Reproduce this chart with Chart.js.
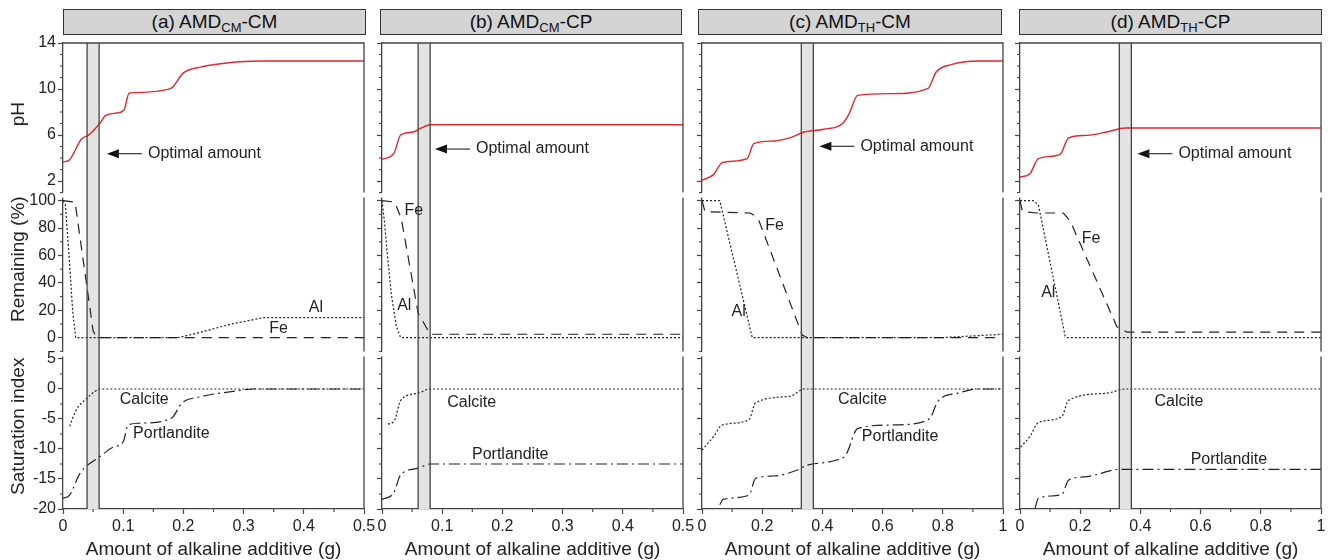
<!DOCTYPE html>
<html>
<head>
<meta charset="utf-8">
<script src="https://cdn.jsdelivr.net/npm/chart.js@4.4.0/dist/chart.umd.min.js"></script>
<style>
body{margin:0;background:#fff;width:1328px;height:560px;position:relative;overflow:hidden;font-family:"Liberation Sans",Arial,sans-serif}
canvas{position:absolute;top:0}
.ttl{position:absolute;top:9px;height:26px;background:#d4d4d4;border:1.5px solid #333;box-sizing:border-box;text-align:center;font-size:19px;line-height:24px;color:#111}
.ttl sub{font-size:13px;vertical-align:-4px;line-height:0}
</style>
</head>
<body>
<div class="ttl" style="left:63px;width:303px">(a) AMD<sub>CM</sub>-CM</div>
<div class="ttl" style="left:380px;width:302px">(b) AMD<sub>CM</sub>-CP</div>
<div class="ttl" style="left:698px;width:304px">(c) AMD<sub>TH</sub>-CM</div>
<div class="ttl" style="left:1019px;width:303px">(d) AMD<sub>TH</sub>-CP</div>
<script>
// tick labels
var xTicksHalf = [0, 0.1, 0.2, 0.3, 0.4, 0.5];
var xTicksOne = [0, 0.2, 0.4, 0.6, 0.8, 1];
var phTicks = [2, 6, 10, 14];
var remTicks = [0, 20, 40, 60, 80, 100];
var siTicks = [-20, -15, -10, -5, 0, 5];

// (a) AMD CM - CM
var phA = [[0,3.65],[0.011,3.86],[0.031,5.68],[0.042,5.97],[0.061,7.0],[0.071,7.71],[0.089,7.91],[0.101,8.15],[0.11,9.65],[0.133,9.71],[0.172,9.95],[0.181,10.12],[0.2,11.4],[0.228,11.9],[0.272,12.26],[0.328,12.43],[0.5,12.43]];
var alA = [[0,100],[0.004,97],[0.01,60],[0.016,20],[0.021,0],[0.19,0],[0.22,3],[0.28,10],[0.333,14.6],[0.5,14.6]];
var feA = [[0,100],[0.02,99],[0.05,5],[0.056,0],[0.5,0]];
var caA = [[0.011,-6.2],[0.022,-3.5],[0.039,-1.6],[0.053,-0.4],[0.061,0],[0.5,0]];
var poA = [[0,-18.2],[0.011,-17.7],[0.028,-14.1],[0.061,-11.3],[0.083,-9.7],[0.1,-8.8],[0.108,-6],[0.128,-5.7],[0.172,-5.2],[0.183,-4.6],[0.197,-2.4],[0.228,-1.3],[0.283,-0.4],[0.317,0],[0.5,0]];

// (b) AMD CM - CP
var phB = [[0,3.89],[0.0195,4.38],[0.031,6.0],[0.052,6.26],[0.063,6.55],[0.08,6.9],[0.5,6.9]];
var alB = [[0,100],[0.004,85],[0.009,60],[0.016,30],[0.024,8],[0.031,0],[0.5,0]];
var feB = [[0,100],[0.021,99],[0.032,87],[0.06,18],[0.08,2.5],[0.5,2.5]];
var caB = [[0.01,-5.9],[0.021,-5.2],[0.031,-1.9],[0.06,-0.7],[0.08,0],[0.5,0]];
var poB = [[0,-18.4],[0.0195,-17.3],[0.031,-14.3],[0.06,-13.2],[0.08,-12.5],[0.5,-12.5]];

// (c) AMD TH - CM
var phC = [[0,2.06],[0.039,2.58],[0.067,3.6],[0.15,3.95],[0.172,5.25],[0.239,5.48],[0.294,5.77],[0.339,6.26],[0.405,6.5],[0.467,7.0],[0.489,7.86],[0.517,9.45],[0.628,9.6],[0.75,10.03],[0.778,11.48],[0.828,12.12],[0.917,12.43],[1,12.43]];
var alC = [[0,100],[0.059,100],[0.167,0],[0.794,0],[1,2.5]];
var feC = [[0,100],[0.01,92],[0.16,91],[0.175,89],[0.19,85],[0.333,2],[0.35,0],[1,0]];
var caC = [[0,-10.2],[0.039,-7.9],[0.067,-6],[0.156,-5.1],[0.178,-2.3],[0.294,-1.2],[0.339,0],[1,0]];
var poC = [[0.059,-19.3],[0.07,-18.4],[0.156,-17.7],[0.178,-14.9],[0.239,-14.5],[0.317,-13.5],[0.344,-12.8],[0.45,-11.8],[0.478,-11],[0.517,-6.6],[0.628,-6.0],[0.739,-5.4],[0.761,-4.6],[0.783,-2.1],[0.85,-0.7],[0.917,0],[1,0]];

// (d) AMD TH - CP
var phD = [[0,2.35],[0.033,2.64],[0.061,3.95],[0.133,4.32],[0.161,5.74],[0.222,5.97],[0.289,6.26],[0.35,6.61],[1,6.61]];
var alD = [[0,100],[0.044,100],[0.061,97],[0.15,1.2],[0.158,0],[1,0]];
var feD = [[0,100],[0.008,92],[0.056,91],[0.144,91],[0.167,85],[0.322,8],[0.356,4],[1,4]];
var caD = [[0.002,-9.7],[0.033,-7.9],[0.061,-5.6],[0.139,-4.6],[0.161,-1.9],[0.289,-0.7],[0.35,0],[1,0]];
var poD = [[0.05,-19.9],[0.061,-18.2],[0.139,-17.6],[0.161,-15.2],[0.222,-14.6],[0.333,-13.4],[1,-13.4]];

// optimal amount ranges (g) and arrow positions (x in g, y in pH)
var bands = [[0.04,0.06],[0.06,0.08],[0.33,0.37],[0.33,0.37]];
var optX = [0.073, 0.088, 0.39, 0.39];
var optY = [4.38, 4.78, 5.02, 4.38];

// curve labels: text, x, y, axis
var labA = [['Al',0.42,21.7,'yrem'],['Fe',0.358,6.4,'yrem'],['Calcite',0.135,-1.7,'ysi'],['Portlandite',0.18,-7.5,'ysi']];
var labB = [['Fe',0.053,92.5,'yrem'],['Al',0.037,23.4,'yrem'],['Calcite',0.149,-2.3,'ysi'],['Portlandite',0.213,-11,'ysi']];
var labC = [['Fe',0.241,81.8,'yrem'],['Al',0.122,19,'yrem'],['Calcite',0.533,-1.7,'ysi'],['Portlandite',0.658,-8,'ysi']];
var labD = [['Fe',0.236,72.6,'yrem'],['Al',0.094,32.8,'yrem'],['Calcite',0.528,-2.1,'ysi'],['Portlandite',0.694,-11.8,'ysi']];

var panels = [
  {left: 63, xmax: 0.5, xt: xTicksHalf, xminor: 0.05, ph: phA, al: alA, fe: feA, ca: caA, po: poA, labels: labA},
  {left: 382, xmax: 0.5, xt: xTicksHalf, xminor: 0.05, ph: phB, al: alB, fe: feB, ca: caB, po: poB, labels: labB},
  {left: 702, xmax: 1, xt: xTicksOne, xminor: 0.1, ph: phC, al: alC, fe: feC, ca: caC, po: poC, labels: labC},
  {left: 1020, xmax: 1, xt: xTicksOne, xminor: 0.1, ph: phD, al: alD, fe: feD, ca: caD, po: poD, labels: labD}
];

Chart.defaults.font.family = '"Liberation Sans", Arial, sans-serif';
var INK = '#222', AXIS = '#444';

function fmt(v) { return String(Math.round(v * 100) / 100); }

var deco = {
  id: 'deco',
  beforeDatasetsDraw: function(chart, args, o) {
    var ctx = chart.ctx, a = chart.chartArea, x = chart.scales.x;
    var b = bands[o.i];
    var x0 = x.getPixelForValue(b[0]), x1 = x.getPixelForValue(b[1]);
    ctx.save();
    ctx.fillStyle = '#e3e3e3';
    ctx.fillRect(x0, a.top, x1 - x0, a.bottom - a.top);
    ctx.restore();
  },
  afterDatasetsDraw: function(chart, args, o) {
    var ctx = chart.ctx, a = chart.chartArea, s = chart.scales;
    var p = panels[o.i], b = bands[o.i];
    ctx.save();
    ctx.strokeStyle = AXIS;
    ctx.lineWidth = 1.3;
    // band edges
    [b[0], b[1]].forEach(function(v) {
      var px = s.x.getPixelForValue(v);
      ctx.beginPath(); ctx.moveTo(px, a.top); ctx.lineTo(px, a.bottom); ctx.stroke();
    });
    // frame top and right
    ctx.beginPath();
    ctx.moveTo(a.left, a.top); ctx.lineTo(a.right, a.top); ctx.lineTo(a.right, a.bottom);
    ctx.stroke();
    // axis breaks
    ctx.fillStyle = '#fff';
    [s.yph.bottom - 1, s.yrem.bottom].forEach(function(yb) {
      ctx.fillRect(a.left - 1.5, yb - 2.5, 3, 5);
      ctx.fillRect(a.right - 1.5, yb - 2.5, 3, 5);
    });
    // minor ticks
    ctx.strokeStyle = AXIS;
    ctx.lineWidth = 1.1;
    function isMajor(sc, v) { return sc.ticks.some(function(t) { return Math.abs(t.value - v) < 1e-6; }); }
    for (var v = 0; v <= p.xmax + 1e-9; v += p.xminor) {
      if (isMajor(s.x, v)) continue;
      var px = s.x.getPixelForValue(v);
      ctx.beginPath(); ctx.moveTo(px, a.bottom); ctx.lineTo(px, a.bottom + 3); ctx.stroke();
    }
    [['yph', 1], ['yrem', 10], ['ysi', 2.5]].forEach(function(m) {
      var sc = s[m[0]], st = m[1];
      for (var v = Math.ceil(sc.min / st) * st; v <= sc.max + 1e-9; v += st) {
        if (isMajor(sc, v)) continue;
        var py = sc.getPixelForValue(v);
        ctx.beginPath(); ctx.moveTo(a.left, py); ctx.lineTo(a.left - 3, py); ctx.stroke();
      }
    });
    // curve labels
    ctx.fillStyle = INK;
    ctx.font = '16px "Liberation Sans", Arial, sans-serif';
    ctx.textAlign = 'center';
    ctx.textBaseline = 'middle';
    p.labels.forEach(function(l) {
      ctx.fillText(l[0], s.x.getPixelForValue(l[1]), s[l[3]].getPixelForValue(l[2]));
    });
    // optimal amount arrow
    var tx = s.x.getPixelForValue(optX[o.i]), ty = s.yph.getPixelForValue(optY[o.i]);
    ctx.fillStyle = '#111';
    ctx.beginPath(); ctx.moveTo(tx, ty); ctx.lineTo(tx + 12, ty - 4.5); ctx.lineTo(tx + 12, ty + 4.5); ctx.closePath(); ctx.fill();
    ctx.strokeStyle = '#333'; ctx.lineWidth = 1.2;
    ctx.beginPath(); ctx.moveTo(tx + 10, ty); ctx.lineTo(tx + 35, ty); ctx.stroke();
    ctx.fillStyle = INK;
    ctx.textAlign = 'left';
    ctx.fillText('Optimal amount', tx + 41, ty);
    ctx.restore();
  }
};

// leading spaces nudge the rotated titles upward a little, as in the figure
function yScale(min, max, ticks, weight, sw, title, show) {
  return {
    type: 'linear', position: 'left', stack: 'col', stackWeight: sw, weight: weight,
    min: min, max: max,
    afterBuildTicks: function(sc) { sc.ticks = ticks.map(function(v) { return {value: v}; }); },
    afterFit: function(sc) { sc.width = 64; },
    ticks: {display: show, callback: fmt, font: {size: 16}, color: INK, padding: 2, autoSkip: false},
    grid: {display: true, drawOnChartArea: false, tickLength: 5, tickColor: AXIS, tickWidth: 1.2},
    border: {color: AXIS, width: 1.3},
    title: {display: show, text: title, font: {size: 19, lineHeight: 1}, color: INK, padding: {top: 10.5, bottom: 0}}
  };
}

function line(data, axis, color, dash, width, smooth) {
  return {
    data: data, yAxisID: axis, borderColor: color, borderDash: dash, borderWidth: width,
    pointRadius: 0, fill: false,
    tension: smooth ? 0.4 : 0, cubicInterpolationMode: smooth ? 'monotone' : 'default'
  };
}

panels.forEach(function(p, i) {
  var cv = document.createElement('canvas');
  cv.width = 381; cv.height = 560;
  cv.style.left = (p.left - 64) + 'px';
  cv.style.width = '381px'; cv.style.height = '560px';
  document.body.appendChild(cv);
  var first = i === 0;
  new Chart(cv, {
    type: 'line',
    data: {
      datasets: [
        line(p.ph, 'yph', '#dc2a2e', [], 1.4, true),
        line(p.al, 'yrem', '#222', [2, 2], 1.2, false),
        line(p.fe, 'yrem', '#222', [10, 7], 1.2, false),
        line(p.ca, 'ysi', '#222', [2, 2], 1.2, true),
        line(p.po, 'ysi', '#222', [11, 4, 2, 4], 1.2, true)
      ]
    },
    options: {
      responsive: false, animation: false, devicePixelRatio: 1,
      layout: {padding: {left: 0, right: 16, top: 43, bottom: 0}},
      plugins: {legend: {display: false}, tooltip: {enabled: false}, deco: {i: i}},
      scales: {
        x: {
          type: 'linear', min: 0, max: p.xmax,
          afterBuildTicks: function(sc) { sc.ticks = p.xt.map(function(v) { return {value: v}; }); },
          afterFit: function(sc) { sc.height = 51; },
          ticks: {callback: fmt, font: {size: 16}, color: INK, padding: 3, maxRotation: 0, autoSkip: false},
          grid: {display: true, drawOnChartArea: false, tickLength: 5, tickColor: AXIS, tickWidth: 1.2},
          border: {color: AXIS, width: 1.3},
          title: {display: true, text: 'Amount of alkaline additive (g)', font: {size: 19, lineHeight: 1}, color: INK, padding: {top: 0, bottom: 1}}
        },
        yph: yScale(0.7, 14, phTicks, 3, 153, '  pH', first),
        yrem: yScale(-11.9, 103.4, remTicks, 2, 158, '      Remaining (%)', first),
        ysi: yScale(-20, 5.83, siTicks, 1, 155, '  Saturation index', first)
      }
    },
    plugins: [deco]
  });
});
</script>
</body>
</html>
